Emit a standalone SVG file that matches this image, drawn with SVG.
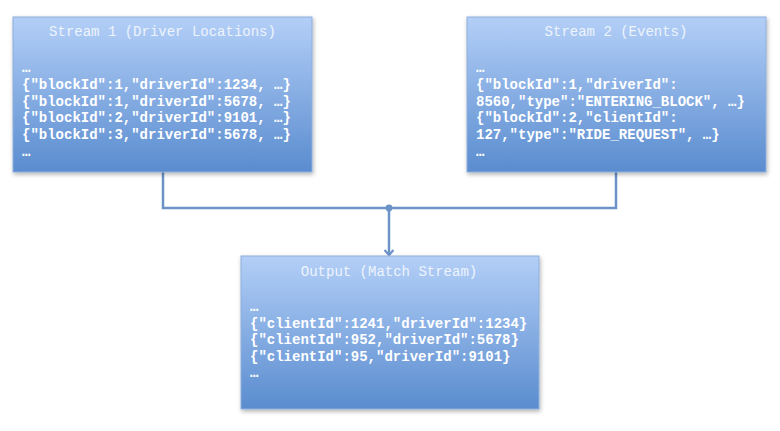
<svg xmlns="http://www.w3.org/2000/svg" width="780" height="431" viewBox="0 0 780 431">
<defs>
<linearGradient id="g" x1="0" y1="0" x2="0" y2="1">
<stop offset="0" stop-color="#b3cff7"/>
<stop offset="1" stop-color="#5a8ccf"/>
</linearGradient>
<filter id="sh" x="-5%" y="-5%" width="112%" height="115%">
<feDropShadow dx="1" dy="2" stdDeviation="2" flood-color="#000" flood-opacity="0.3"/>
</filter>
<marker id="arr" markerWidth="12" markerHeight="12" refX="9" refY="6" orient="auto" markerUnits="userSpaceOnUse">
<path d="M4,1.5 L9,6 L4,10.5" fill="none" stroke="#6b93c8" stroke-width="2.2"/>
</marker>
</defs>
<style>
.box{fill:url(#g);stroke:#8eaedb;stroke-width:1;filter:url(#sh)}
.t{font-family:"Liberation Mono","Courier New",monospace;font-size:14px;fill:#ffffff}
.title{fill:#eef4fd;text-anchor:middle}
.body{font-weight:bold}
.c{fill:none;stroke:#6b93c8;stroke-width:2.5}
</style>
<rect width="780" height="431" fill="#fff"/>
<g id="connectors">
<polyline class="c" points="163,172 163,208 616,208 616,172"/>
<line class="c" x1="389" y1="208" x2="389" y2="255" marker-end="url(#arr)"/>
<circle cx="389" cy="208" r="3.4" fill="#6b93c8"/>
</g>
<g id="stream1">
<rect class="box" x="13" y="17" width="299" height="155"/>
<text class="t title" x="162.5" y="36">Stream 1 (Driver Locations)</text>
<text class="t body" x="22" y="72">…</text>
<text class="t body" x="22" y="89">{"blockId":1,"driverId":1234, …}</text>
<text class="t body" x="22" y="105.5">{"blockId":1,"driverId":5678, …}</text>
<text class="t body" x="22" y="122">{"blockId":2,"driverId":9101, …}</text>
<text class="t body" x="22" y="138.5">{"blockId":3,"driverId":5678, …}</text>
<text class="t body" x="22" y="156">…</text>
</g>
<g id="stream2">
<rect class="box" x="467" y="17" width="299" height="155"/>
<text class="t title" x="616" y="36">Stream 2 (Events)</text>
<text class="t body" x="476" y="72">…</text>
<text class="t body" x="476" y="89">{"blockId":1,"driverId":</text>
<text class="t body" x="476" y="105.5">8560,"type":"ENTERING_BLOCK", …}</text>
<text class="t body" x="476" y="122">{"blockId":2,"clientId":</text>
<text class="t body" x="476" y="138.5">127,"type":"RIDE_REQUEST", …}</text>
<text class="t body" x="476" y="156">…</text>
</g>
<g id="output">
<rect class="box" x="241" y="256" width="298" height="153"/>
<text class="t title" x="389" y="276">Output (Match Stream)</text>
<text class="t body" x="250" y="311">…</text>
<text class="t body" x="250" y="327.5">{"clientId":1241,"driverId":1234}</text>
<text class="t body" x="250" y="344">{"clientId":952,"driverId":5678}</text>
<text class="t body" x="250" y="360.5">{"clientId":95,"driverId":9101}</text>
<text class="t body" x="250" y="377">…</text>
</g>
</svg>
